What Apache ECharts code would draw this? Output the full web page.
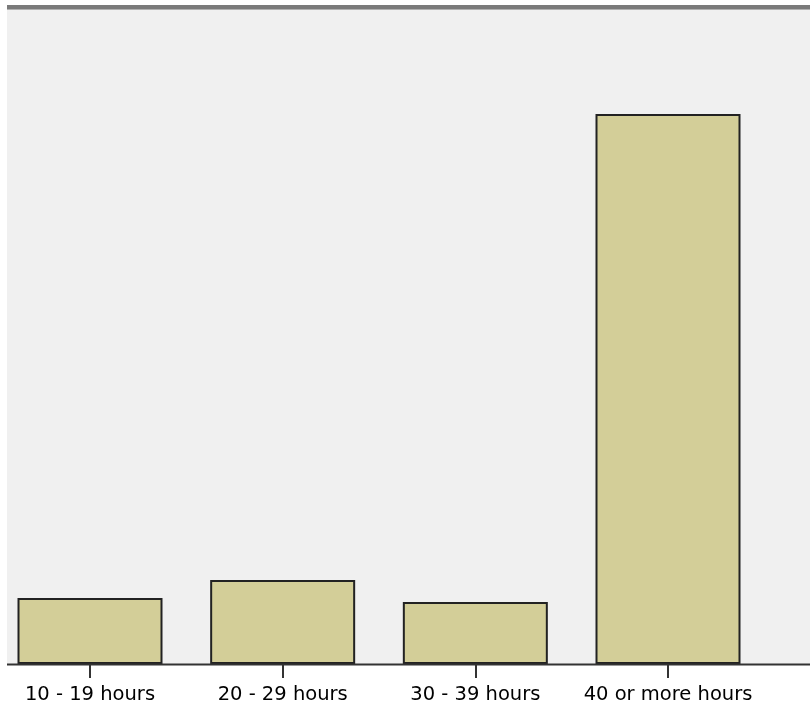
<!DOCTYPE html>
<html><head><meta charset="utf-8">
<script src="https://cdn.jsdelivr.net/npm/echarts@6/dist/echarts.min.js"></script>
<style>html,body{margin:0;padding:0;background:#fff}#c{width:810px;height:706px}</style>
</head><body><div id="c"></div>
<script>
var categories = ['10 - 19 hours', '20 - 29 hours', '30 - 39 hours', '40 or more hours'];
var counts = [66, 84, 62, 550];
var yMax = 656;

var chart = echarts.init(document.getElementById('c'), null, {renderer: 'canvas'});
chart.setOption({
  animation: false,
  backgroundColor: '#ffffff',
  graphic: [
    {type: 'rect', z: -10, shape: {x: 7, y: 8, width: 803, height: 656}, style: {fill: '#F0F0F0'}},
    {type: 'rect', z: 10, shape: {x: 7, y: 5, width: 803, height: 4}, style: {fill: '#7a7a7a'}},
    {type: 'rect', z: 10, shape: {x: 7, y: 9, width: 803, height: 1}, style: {fill: '#b0b0b0'}},
    {type: 'line', z: 10, shape: {x1: 7, y1: 664.5, x2: 810, y2: 664.5}, style: {stroke: '#333333', lineWidth: 2}}
  ],
  grid: {left: 90, right: 142, top: 8, bottom: 42, containLabel: false},
  xAxis: {
    type: 'category',
    data: categories,
    boundaryGap: false,
    axisLine: {show: false},
    axisTick: {show: true, length: 14, lineStyle: {color: '#333333', width: 2}},
    axisLabel: {margin: 21, color: '#000000', fontFamily: 'DejaVu Sans', fontSize: 19.5, interval: 0}
  },
  yAxis: {
    type: 'value', min: 0, max: yMax,
    show: false,
    splitLine: {show: false}
  },
  series: [{
    type: 'bar',
    data: counts,
    barWidth: 145,
    clip: false,
    itemStyle: {color: '#D3CE98', borderColor: '#222222', borderWidth: 2}
  }]
});
</script></body></html>
